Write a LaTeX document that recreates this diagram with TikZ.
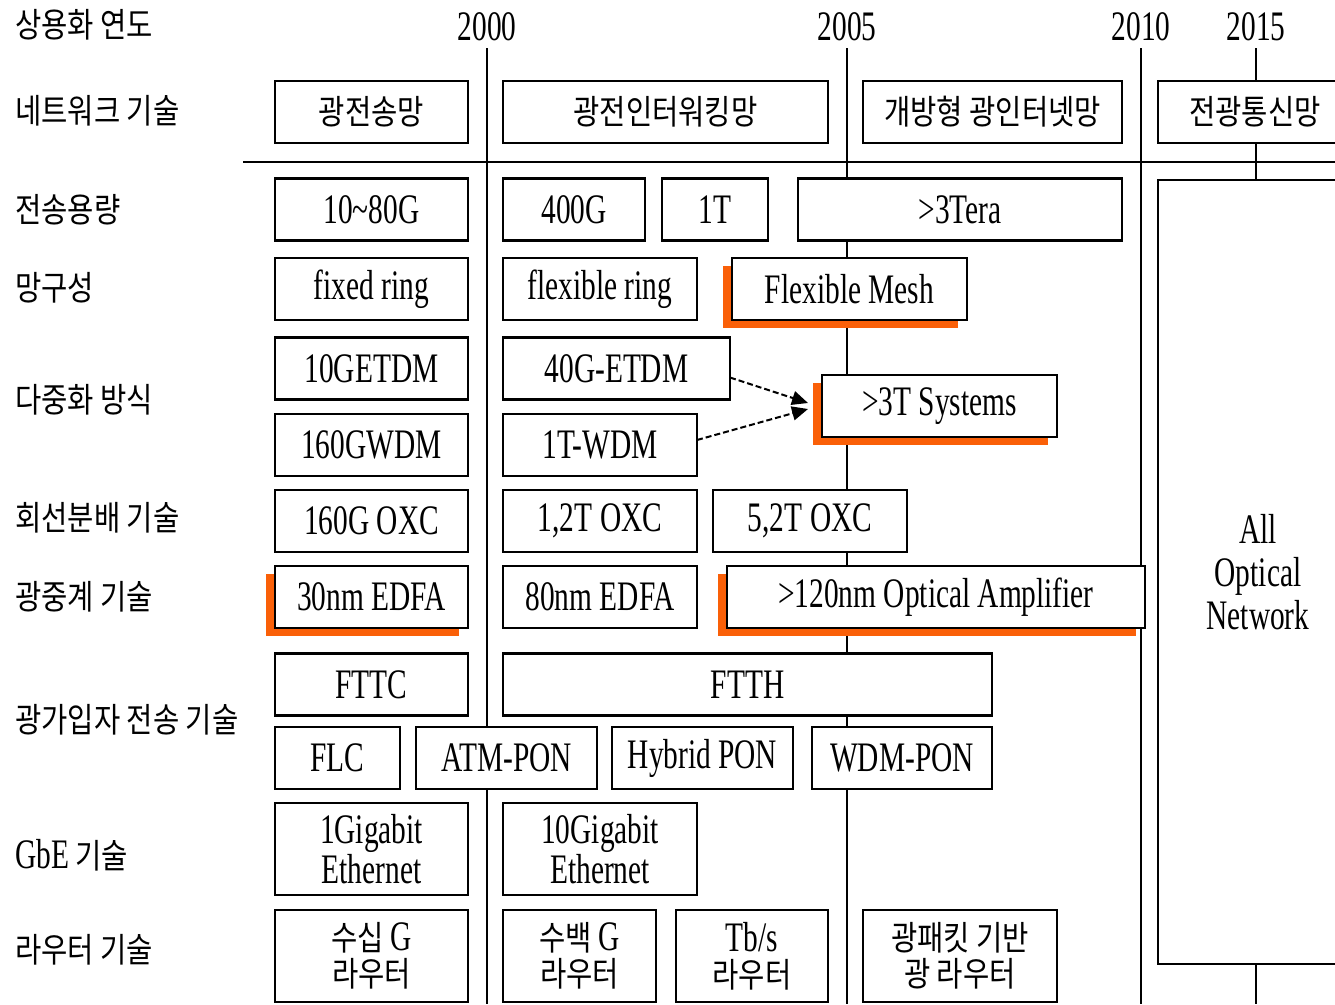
\documentclass[tikz,border=0pt]{standalone}
\usepackage{fontspec}
\setmainfont{Liberation Serif}[FakeStretch=0.7]
\newfontfamily\kr{Noto Sans CJK KR}[FakeStretch=0.84,Scale=0.81]
\usepackage{tikz}
\usetikzlibrary{arrows.meta,shadows}
\definecolor{hotorange}{RGB}{250,96,8}

\begin{document}
\begin{tikzpicture}[x=1pt,y=-1pt,>={Triangle[length=16pt,width=14pt]},
	font=\fontsize{42}{40}\selectfont,
	box/.style={draw, fill=white, line width=2.2pt,%
		minimum height=62pt, inner sep=0pt, outer sep=0pt, align=center},
	krbox/.style={box, font=\fontsize{42}{36}\selectfont\kr},
	hot/.style={drop shadow={shadow xshift=-9pt,shadow yshift=-8pt,%
		fill=hotorange,opacity=1}},
	rowlabel/.style={anchor=west, inner sep=0pt, font=\fontsize{42}{40}\selectfont\kr},
	year/.style={inner sep=0pt},
	grid/.style={line width=2pt}]
	\useasboundingbox (0,0) rectangle (1335,1004);

	% time axis
	\foreach \yr/\x in {2000/487,2005/847,2010/1141,2015/1256}{
		\node[year] (y\yr) at (\x,27) {\yr};
		\draw[grid] (\x,48) -- (\x,1004);
	}
	\draw[grid] (243,162) -- (1335,162);

	% row labels
	\node[rowlabel] (l0) at (15,25) {상용화 연도};
	\node[rowlabel] (l1) at (15,111) {네트워크 기술};
	\node[rowlabel] (l2) at (15,210) {전송용량};
	\node[rowlabel] (l3) at (15,288) {망구성};
	\node[rowlabel] (l4) at (15,400) {다중화 방식};
	\node[rowlabel] (l5) at (15,518) {회선분배 기술};
	\node[rowlabel] (l6) at (15,597) {광중계 기술};
	\node[rowlabel] (l7) at (15,720) {광가입자 전송 기술};
	\node[rowlabel] (l8) at (15,855) {{\rmfamily GbE} 기술};
	\node[rowlabel] (l9) at (15,950) {라우터 기술};

	% network
	\node[krbox, minimum width=193pt] (ptn) at (371.5,112) {광전송망};
	\node[krbox, minimum width=325pt] (pin) at (665.5,112) {광전인터워킹망};
	\node[krbox, minimum width=259pt] (oin) at (992.5,112) {개방형 광인터넷망};
	\node[krbox, minimum width=194pt] (aonet) at (1255,112) {전광통신망};

	% capacity
	\node[box, minimum width=193pt] (c80g) at (371.5,209.5) {10\textasciitilde 80G};
	\node[box, minimum width=142pt] (c400g) at (574,209.5) {400G};
	\node[box, minimum width=106pt] (c1t) at (715,209.5) {1T};
	\node[box, minimum width=324pt] (c3tera) at (960,209.5) {>3Tera};
	\node[box, minimum width=200pt, minimum height=784pt,%
		font=\fontsize{42}{43}\selectfont] (aon) at (1258,572) {All\\Optical\\Network};

	% topology
	\node[box, minimum width=193pt] (fixring) at (371.5,289) {fixed ring};
	\node[box, minimum width=194pt] (flexring) at (600,289) {flexible ring};
	\node[box, hot, minimum width=235pt] (mesh) at (849.5,289) {Flexible Mesh};

	% multiplexing
	\node[box, minimum width=193pt] (etdm10) at (371.5,368.5) {10GETDM};
	\node[box, minimum width=227pt] (etdm40) at (616.5,368.5) {40G-ETDM};
	\node[box, minimum width=193pt] (wdm160) at (371.5,445) {160GWDM};
	\node[box, minimum width=194pt] (wdm1t) at (600,445) {1T-WDM};
	\node[box, hot, minimum width=235pt] (sys3t) at (939.5,406) {>3T Systems};
	\draw[line width=2pt, dash pattern=on 6pt off 3pt, ->] ([yshift=-9pt]etdm40.east) -- ([xshift=-14pt,yshift=3pt]sys3t.west);
	\draw[line width=2pt, dash pattern=on 6pt off 3pt, ->] ([yshift=5pt]wdm1t.east) -- ([xshift=-14pt,yshift=-3pt]sys3t.west);

	% cross-connect
	\node[box, minimum width=193pt] (oxc160) at (371.5,521) {160G OXC};
	\node[box, minimum width=194pt] (oxc12) at (600,521) {1,2T OXC};
	\node[box, minimum width=194pt] (oxc52) at (810,521) {5,2T OXC};

	% amplifiers
	\node[box, hot, minimum width=193pt] (edfa30) at (371.5,597) {30nm EDFA};
	\node[box, minimum width=194pt] (edfa80) at (600,597) {80nm EDFA};
	\node[box, hot, minimum width=418pt] (amp120) at (936,597) {>120nm Optical Amplifier};

	% access
	\node[box, minimum width=193pt] (fttc) at (371.5,684.5) {FTTC};
	\node[box, minimum width=489pt] (ftth) at (747.5,684.5) {FTTH};
	\node[box, minimum width=125pt] (flc) at (337.5,758) {FLC};
	\node[box, minimum width=181pt] (atmpon) at (506.5,758) {ATM-PON};
	\node[box, minimum width=181pt] (hybpon) at (702.5,758) {Hybrid PON};
	\node[box, minimum width=180pt] (wdmpon) at (902,758) {WDM-PON};

	% GbE
	\node[box, minimum width=193pt, minimum height=92pt] (gbe1) at (371.5,849) {1Gigabit\\Ethernet};
	\node[box, minimum width=194pt, minimum height=92pt] (gbe10) at (600,849) {10Gigabit\\Ethernet};

	% routers
	\node[krbox, minimum width=193pt, minimum height=92pt] (rt10) at (371.5,956) {수십 {\rmfamily G}\\라우터};
	\node[krbox, minimum width=153pt, minimum height=92pt] (rt100) at (579.5,956) {수백 {\rmfamily G}\\라우터};
	\node[krbox, minimum width=152pt, minimum height=92pt] (rttb) at (752,956) {{\rmfamily Tb/s}\\라우터};
	\node[krbox, minimum width=194pt, minimum height=92pt] (rtpkt) at (960,956) {광패킷 기반\\광 라우터};
\end{tikzpicture}
\end{document}
